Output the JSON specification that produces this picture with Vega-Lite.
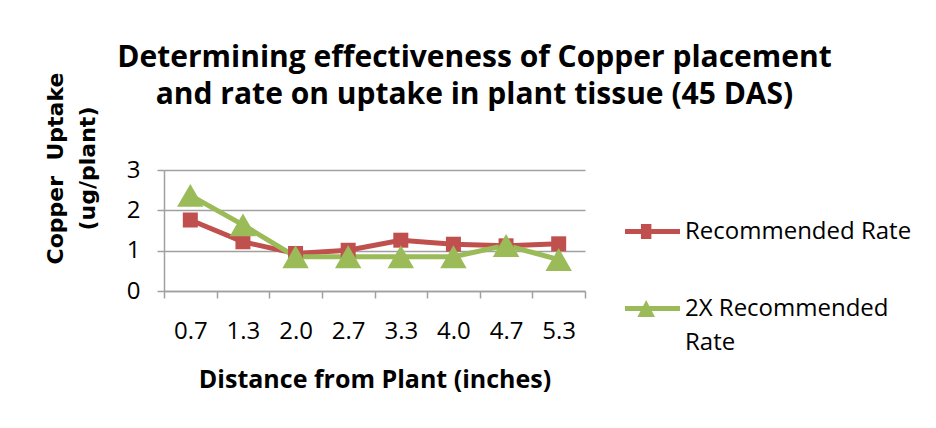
{
  "$schema": "https://vega.github.io/schema/vega-lite/v6.json",
  "width": 421,
  "height": 121,
  "autosize": {"type": "none"},
  "padding": {"left": 164, "top": 170, "right": 351, "bottom": 137},
  "background": "white",
  "config": {
    "font": "Open Sans",
    "view": {"stroke": null},
    "axis": {"labelFont": "Open Sans", "titleFont": "Open Sans", "labelColor": "#000000", "titleColor": "#000000"}
  },
  "title": {
    "text": ["Determining effectiveness of Copper placement", "and rate on uptake in plant tissue (45 DAS)"],
    "fontSize": 30,
    "fontWeight": "bold",
    "font": "Open Sans",
    "color": "#000000",
    "anchor": "middle",
    "frame": "group",
    "dx": 100,
    "offset": -38,
    "lineHeight": 37
  },
  "data": {
    "values": [
      {"distance": "0.7", "series": "Recommended Rate", "uptake": 1.76},
      {"distance": "1.3", "series": "Recommended Rate", "uptake": 1.22},
      {"distance": "2.0", "series": "Recommended Rate", "uptake": 0.93},
      {"distance": "2.7", "series": "Recommended Rate", "uptake": 1.01},
      {"distance": "3.3", "series": "Recommended Rate", "uptake": 1.26},
      {"distance": "4.0", "series": "Recommended Rate", "uptake": 1.16},
      {"distance": "4.7", "series": "Recommended Rate", "uptake": 1.12},
      {"distance": "5.3", "series": "Recommended Rate", "uptake": 1.17},
      {"distance": "0.7", "series": "2X Recommended Rate", "uptake": 2.37},
      {"distance": "1.3", "series": "2X Recommended Rate", "uptake": 1.64},
      {"distance": "2.0", "series": "2X Recommended Rate", "uptake": 0.85},
      {"distance": "2.7", "series": "2X Recommended Rate", "uptake": 0.85},
      {"distance": "3.3", "series": "2X Recommended Rate", "uptake": 0.85},
      {"distance": "4.0", "series": "2X Recommended Rate", "uptake": 0.85},
      {"distance": "4.7", "series": "2X Recommended Rate", "uptake": 1.13},
      {"distance": "5.3", "series": "2X Recommended Rate", "uptake": 0.78}
    ]
  },
  "encoding": {
    "x": {
      "field": "distance",
      "type": "ordinal",
      "bandPosition": 0.5,
      "scale": {"type": "band", "paddingInner": 0, "paddingOuter": 0},
      "sort": ["0.7", "1.3", "2.0", "2.7", "3.3", "4.0", "4.7", "5.3"],
      "axis": {
        "title": "Distance from Plant (inches)",
        "titleFontSize": 25,
        "titleFontWeight": "bold",
        "titlePadding": 24,
        "labelFontSize": 24,
        "labelAngle": 0,
        "labelPadding": 21,
        "tickBand": "extent",
        "tickSize": 7,
        "tickColor": "#A0A0A0",
        "tickWidth": 1.5,
        "domainColor": "#A0A0A0",
        "domainWidth": 1.5,
        "grid": false
      }
    },
    "y": {
      "field": "uptake",
      "type": "quantitative",
      "scale": {"domain": [0, 3], "nice": false},
      "axis": {
        "values": [0, 1, 2, 3],
        "title": ["Copper\u00a0\u00a0Uptake", "(ug/plant)"],
        "titleFont": "DejaVu Sans",
        "titleFontSize": 22,
        "titleFontWeight": "bold",
        "titleLineHeight": 32,
        "titleAngle": -90,
        "titleAlign": "center",
        "titleBaseline": "top",
        "titleX": -119,
        "titleY": -2,
        "labelFontSize": 24,
        "labelPadding": 17,
        "tickSize": 7,
        "tickColor": "#A0A0A0",
        "tickWidth": 1.5,
        "domainColor": "#A0A0A0",
        "domainWidth": 1.5,
        "grid": true,
        "gridColor": "#A0A0A0",
        "gridWidth": 1.5
      }
    },
    "color": {
      "field": "series",
      "type": "nominal",
      "scale": {"domain": ["Recommended Rate", "2X Recommended Rate"], "range": ["#C0504D", "#9BBB59"]},
      "legend": {
        "title": null,
        "orient": "none",
        "legendX": 461,
        "legendY": 34,
        "padding": 0,
        "symbolSize": 3025,
        "symbolStrokeWidth": 0,
        "labelFontSize": 24,
        "labelFont": "Open Sans",
        "labelColor": "#000000",
        "labelOffset": 5,
        "labelLimit": 400,
        "labelBaseline": "top",
        "rowPadding": 37,
        "labelExpr": "datum.label == '2X Recommended Rate' ? ['2X Recommended', 'Rate'] : datum.label",
        "encoding": {
          "symbols": {
            "shape": {
              "condition": {"test": "datum.value === 'Recommended Rate'", "value": "M-1,-0.09L1,-0.09L1,0.09L-1,0.09Z M-0.42,-0.27L-0.04,-0.27L-0.04,0.27L-0.42,0.27Z"},
              "value": "M-1,-0.09L1,-0.09L1,0.09L-1,0.09Z M-0.23,-0.31L0.09,0.31L-0.55,0.31Z"
            },
            "fill": {
              "condition": {"test": "datum.value === 'Recommended Rate'", "value": "#C0504D"},
              "value": "#9BBB59"
            },
            "size": {"value": 3025},
            "strokeWidth": {"value": 0},
            "opacity": {"value": 1}
          },
          "labels": {
            "dy": {"value": -12},
            "lineHeight": {"value": 34}
          }
        }
      }
    }
  },
  "layer": [
    {
      "mark": {"type": "line", "strokeWidth": 5}
    },
    {
      "transform": [{"filter": "datum.series === 'Recommended Rate'"}],
      "mark": {"type": "point", "shape": "square", "size": 225, "filled": true, "opacity": 1}
    },
    {
      "transform": [{"filter": "datum.series === '2X Recommended Rate'"}],
      "mark": {"type": "point", "shape": "triangle-up", "size": 700, "filled": true, "opacity": 1}
    }
  ]
}
